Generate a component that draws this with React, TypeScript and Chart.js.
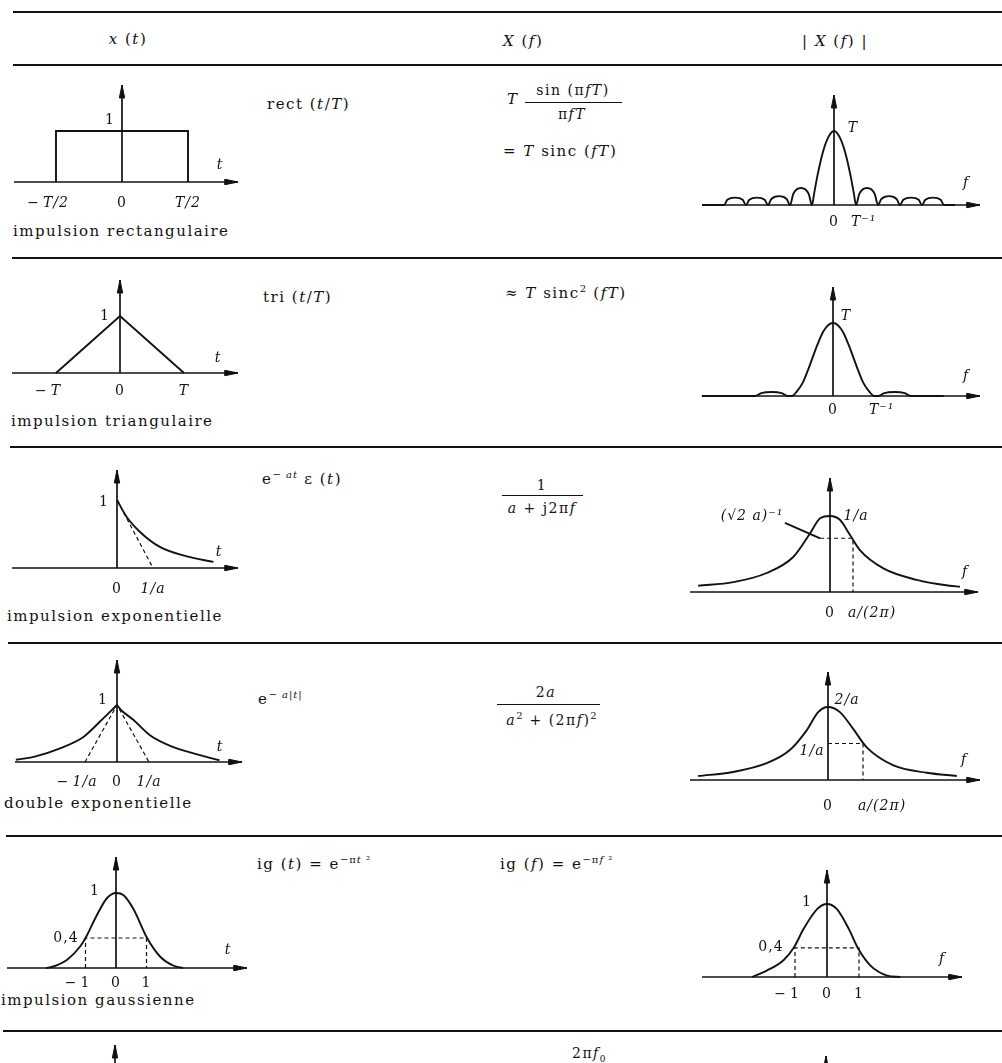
import React, { useEffect, useRef } from 'react';
import { Chart, registerables } from 'chart.js';

Chart.register(...registerables);

const INK = '#121212';

// ---------------- data ----------------
// Row 1 : rectangular pulse and |T sinc(fT)| (f in units of 1/T, magnitude in units of T)
const rectT = [-0.5, -0.5, 0.5, 0.5];
const rectX = [0, 1, 1, 0];
const rectTickValues = [-0.5, 0, 0.5];
const rectTickLabels = ['− T/2', '0', 'T/2'];

const sincF = [-6, -5, -4.85, -4.5, -4.15, -4, -3.85, -3.5, -3.15, -3, -2.85, -2.5, -2.15, -2, -1.85, -1.5, -1.15, -1, -0.9, -0.75, -0.5, -0.25, 0, 0.25, 0.5, 0.75, 0.9, 1, 1.15, 1.5, 1.85, 2, 2.15, 2.5, 2.85, 3, 3.15, 3.5, 3.85, 4, 4.15, 4.5, 4.85, 5, 5.5];
const sincMag = [0, 0, 0.07, 0.1, 0.07, 0, 0.07, 0.1, 0.07, 0, 0.08, 0.12, 0.08, 0, 0.15, 0.23, 0.15, 0, 0.16, 0.4, 0.72, 0.92, 1, 0.92, 0.72, 0.4, 0.16, 0, 0.15, 0.23, 0.15, 0, 0.08, 0.12, 0.08, 0, 0.07, 0.1, 0.07, 0, 0.07, 0.1, 0.07, 0, 0];
const sincTickValues = [0, 1];
const sincTickLabels = ['0', 'T⁻¹'];

// Row 2 : triangular pulse and T sinc²(fT)
const triT = [-1, 0, 1];
const triX = [0, 1, 0];
const triTickValues = [-1, 0, 1];
const triTickLabels = ['− T', '0', 'T'];

const sinc2F = [-3.2, -1.9, -1.75, -1.5, -1.25, -1.1, -1, -0.9, -0.74, -0.58, -0.41, -0.24, -0.12, 0, 0.12, 0.24, 0.41, 0.58, 0.74, 0.9, 1, 1.1, 1.25, 1.5, 1.75, 1.9, 2.7];
const sinc2Mag = [0, 0, 0.04, 0.055, 0.04, 0, 0, 0.05, 0.18, 0.4, 0.66, 0.88, 0.97, 1, 0.97, 0.88, 0.66, 0.4, 0.18, 0.05, 0, 0, 0.04, 0.055, 0.04, 0, 0];
const sinc2TickValues = [0, 1];
const sinc2TickLabels = ['0', 'T⁻¹'];

// Row 3 : one-sided exponential (t in units of 1/a) and its spectrum magnitude (f in units of a/2π)
const expT = [0, 0.27, 0.64, 1.19, 1.94, 2.68];
const expX = [1, 0.75, 0.53, 0.31, 0.17, 0.09];
const expTangentT = [0, 1];
const expTangentX = [1, 0];
const expTickValues = [0, 1];
const expTickLabels = ['0', '1/a'];

const lorF = [-5.73, -4.2, -2.75, -1.6, -0.87, -0.43, 0, 0.43, 0.87, 1.3, 2.32, 3.77, 5.2, 5.65];
const lorMag = [0.083, 0.13, 0.25, 0.46, 0.77, 0.97, 1, 0.95, 0.75, 0.55, 0.31, 0.16, 0.083, 0.07];
const lorGuideF = [-0.43, 1, 1];
const lorGuideMag = [0.707, 0.707, 0];
const lorLeaderF = [-1.96, -0.43];
const lorLeaderMag = [0.91, 0.707];
const lorTickValues = [0, 1];
const lorTickLabels = ['0', 'a/(2π)'];

// Row 4 : double exponential and 2a / (a² + (2πf)²)
const dexpLeftT = [-3.16, -2.6, -1.78, -1.05, -0.53, -0.22, 0];
const dexpLeftX = [0.04, 0.09, 0.24, 0.44, 0.71, 0.88, 1];
const dexpRightT = [0, 0.15, 0.51, 1.03, 1.76, 2.6, 3.2];
const dexpRightX = [1, 0.9, 0.74, 0.47, 0.26, 0.12, 0.03];
const dexpTangentT = [-1, 0, 1];
const dexpTangentX = [0, 1, 0];
const dexpTickValues = [-1, 0, 1];
const dexpTickLabels = ['− 1/a', '0', '1/a'];

const lor2F = [-3.71, -2.71, -1.75, -1.09, -0.61, -0.28, 0, 0.34, 0.72, 1.1, 1.87, 2.82, 3.68];
const lor2Mag = [0.055, 0.11, 0.23, 0.41, 0.68, 0.93, 1, 0.93, 0.7, 0.45, 0.2, 0.1, 0.055];
const lor2GuideF = [0, 1, 1];
const lor2GuideMag = [0.5, 0.5, 0];
const lor2TickValues = [0, 1];
const lor2TickLabels = ['0', 'a/(2π)'];

// Row 5 : gaussian pulse and its transform
const gaussT = [-2.3, -2.05, -1.6, -1.17, -1, -0.62, -0.3, 0, 0.25, 0.58, 1.02, 1.45, 1.89, 2.2];
const gaussX = [0, 0.02, 0.11, 0.29, 0.4, 0.71, 0.93, 1, 0.97, 0.78, 0.4, 0.15, 0.03, 0];
const gaussF = [-2.34, -1.87, -1.36, -1.04, -0.73, -0.31, 0, 0.31, 0.68, 0.96, 1.35, 1.88, 2.29];
const gaussFMag = [0, 0.09, 0.23, 0.4, 0.66, 0.93, 1, 0.93, 0.66, 0.4, 0.16, 0.02, 0];
const gaussGuideT = [-1, -1, 1, 1];
const gaussGuideX = [0, 0.4, 0.4, 0];
const gaussTickValues = [-1, 0, 1];
const gaussTickLabels = ['− 1', '0', '1'];

// ---------------- plot machinery ----------------
type Curve = { xs: number[]; ys: number[]; smooth?: boolean; dashed?: boolean };
type Note = { text: string; x: number; y: number; italic?: boolean };
type PlotCfg = {
  box: [number, number, number, number];
  origin: [number, number];
  unit: [number, number];
  axisPx?: [number, number];
  topPx: number;
  curves: Curve[];
  tickValues?: number[];
  tickLabels?: string[];
  tickAlign?: ('center' | 'left')[];
  tickGap?: number;
  notes?: Note[];
};

const FONT_UP = '14px "DejaVu Serif"';
const FONT_IT = 'italic 14px "DejaVu Serif"';

function Plot({ cfg }: { cfg: PlotCfg }) {
  const ref = useRef<HTMLCanvasElement>(null);
  useEffect(() => {
    const canvas = ref.current!;
    const [bl, bt, bw, bh] = cfg.box;
    const [ox, oy] = cfg.origin;
    const [sx, sy] = cfg.unit;
    const toX = (px: number) => (px - ox) / sx;
    const toY = (py: number) => (oy - py) / sy;
    const zip = (xs: number[], ys: number[]) => xs.map((x, i) => ({ x, y: ys[i] }));
    const lineBase = { showLine: true, borderColor: INK, pointRadius: 0, fill: false, tension: 0 };
    const datasets: any[] = cfg.curves.map((c) => ({
      ...lineBase,
      data: zip(c.xs, c.ys),
      borderWidth: c.dashed ? 1.2 : 1.9,
      borderDash: c.dashed ? [4, 3] : [],
      cubicInterpolationMode: c.smooth ? 'monotone' : 'default',
    }));
    const AL = 13;
    const AW = 2.7;
    const yTop = toY(cfg.topPx);
    const axisStyle = { ...lineBase, borderWidth: 1.7 };
    const arrowStyle = { ...lineBase, borderWidth: 1, fill: 'shape', backgroundColor: INK };
    datasets.push({ ...axisStyle, data: [{ x: 0, y: Math.min(0, yTop) }, { x: 0, y: yTop }] });
    datasets.push({
      ...arrowStyle,
      data: [
        { x: 0, y: yTop },
        { x: -AW / sx, y: yTop - AL / sy },
        { x: AW / sx, y: yTop - AL / sy },
        { x: 0, y: yTop },
      ],
    });
    if (cfg.axisPx) {
      const a0 = toX(cfg.axisPx[0]);
      const a1 = toX(cfg.axisPx[1]);
      datasets.push({ ...axisStyle, data: [{ x: a0, y: 0 }, { x: a1, y: 0 }] });
      datasets.push({
        ...arrowStyle,
        data: [
          { x: a1, y: 0 },
          { x: a1 - AL / sx, y: AW / sy },
          { x: a1 - AL / sx, y: -AW / sy },
          { x: a1, y: 0 },
        ],
      });
    }

    const labelPlugin = {
      id: 'plotLabels',
      afterDatasetsDraw(chart: any) {
        const ctx: CanvasRenderingContext2D = chart.ctx;
        ctx.save();
        ctx.fillStyle = INK;
        ctx.textBaseline = 'middle';
        (ctx as any).letterSpacing = '1px';
        const xs = chart.scales.x;
        const ys = chart.scales.y;
        const yLab = ys.getPixelForValue(0) + (cfg.tickGap ?? 18);
        (cfg.tickValues || []).forEach((v, i) => {
          const lab = (cfg.tickLabels || [])[i] || '';
          const align = (cfg.tickAlign || [])[i] || 'center';
          const px = xs.getPixelForValue(v);
          let body = lab;
          let minus = false;
          if (lab.startsWith('− ')) {
            body = lab.slice(2);
            minus = true;
          }
          ctx.font = /[A-Za-z]/.test(body) ? FONT_IT : FONT_UP;
          if (align === 'left') {
            ctx.textAlign = 'left';
            ctx.fillText(body, px - 5, yLab);
          } else {
            ctx.textAlign = 'center';
            ctx.fillText(body, px, yLab);
          }
          if (minus) {
            const w = ctx.measureText(body).width;
            ctx.font = FONT_UP;
            ctx.textAlign = 'right';
            ctx.fillText('−', px - w / 2 - 3, yLab);
          }
        });
        (cfg.notes || []).forEach((n) => {
          ctx.font = n.italic ? FONT_IT : FONT_UP;
          ctx.textAlign = 'center';
          ctx.fillText(n.text, n.x - bl, n.y - bt);
        });
        ctx.restore();
      },
    };

    const chart = new Chart(canvas, {
      type: 'scatter',
      data: { datasets },
      options: {
        responsive: false,
        animation: false,
        events: [],
        layout: { padding: 0 },
        plugins: { legend: { display: false }, tooltip: { enabled: false } },
        scales: {
          x: { type: 'linear', min: toX(bl), max: toX(bl + bw), display: false },
          y: { type: 'linear', min: toY(bt + bh), max: toY(bt), display: false },
        },
      },
      plugins: [labelPlugin],
    } as any);
    return () => chart.destroy();
  }, [cfg]);
  const [bl, bt, bw, bh] = cfg.box;
  return (
    <canvas
      ref={ref}
      width={bw}
      height={bh}
      style={{ position: 'absolute', left: bl, top: bt, width: bw, height: bh }}
    />
  );
}

// ---------------- layout ----------------
const PLOTS: PlotCfg[] = [
  {
    box: [0, 70, 252, 185], origin: [122, 182], unit: [132, 51], axisPx: [14, 238], topPx: 85,
    curves: [{ xs: rectT, ys: rectX }],
    tickValues: rectTickValues, tickLabels: rectTickLabels, tickGap: 21,
    notes: [{ text: '1', x: 110, y: 120 }, { text: 't', x: 220, y: 165, italic: true }],
  },
  {
    box: [680, 70, 322, 185], origin: [834, 205], unit: [22, 74], axisPx: [702, 980], topPx: 95,
    curves: [{ xs: sincF, ys: sincMag, smooth: true }],
    tickValues: sincTickValues, tickLabels: sincTickLabels, tickAlign: ['center', 'left'], tickGap: 17,
    notes: [{ text: 'T', x: 853, y: 128, italic: true }, { text: 'f', x: 966, y: 183, italic: true }],
  },
  {
    box: [0, 262, 252, 182], origin: [120, 373], unit: [64, 57], axisPx: [12, 238], topPx: 280,
    curves: [{ xs: triT, ys: triX }],
    tickValues: triTickValues, tickLabels: triTickLabels, tickGap: 18,
    notes: [{ text: '1', x: 105, y: 316 }, { text: 't', x: 218, y: 358, italic: true }],
  },
  {
    box: [680, 262, 322, 182], origin: [833, 396], unit: [41, 73], axisPx: [702, 980], topPx: 287,
    curves: [{ xs: sinc2F, ys: sinc2Mag, smooth: true }],
    tickValues: sinc2TickValues, tickLabels: sinc2TickLabels, tickAlign: ['center', 'left'], tickGap: 14,
    notes: [{ text: 'T', x: 846, y: 316, italic: true }, { text: 'f', x: 966, y: 376, italic: true }],
  },
  {
    box: [0, 452, 252, 150], origin: [117, 568], unit: [36, 68], axisPx: [12, 238], topPx: 470,
    curves: [
      { xs: expT, ys: expX, smooth: true },
      { xs: expTangentT, ys: expTangentX, dashed: true },
    ],
    tickValues: expTickValues, tickLabels: expTickLabels, tickGap: 21,
    notes: [{ text: '1', x: 104, y: 502 }, { text: 't', x: 219, y: 552, italic: true }],
  },
  {
    box: [680, 452, 322, 188], origin: [830, 592], unit: [23, 76], axisPx: [690, 978], topPx: 478,
    curves: [
      { xs: lorF, ys: lorMag, smooth: true },
      { xs: lorGuideF, ys: lorGuideMag, dashed: true },
      { xs: lorLeaderF, ys: lorLeaderMag },
    ],
    tickValues: lorTickValues, tickLabels: lorTickLabels, tickAlign: ['center', 'left'], tickGap: 21,
    notes: [
      { text: '(√2 a)⁻¹', x: 752, y: 516, italic: true },
      { text: '1/a', x: 856, y: 516, italic: true },
      { text: 'f', x: 965, y: 572, italic: true },
    ],
  },
  {
    box: [0, 648, 252, 145], origin: [117, 762], unit: [32, 57], axisPx: [15, 242], topPx: 660,
    curves: [
      { xs: dexpLeftT, ys: dexpLeftX, smooth: true },
      { xs: dexpRightT, ys: dexpRightX, smooth: true },
      { xs: dexpTangentT, ys: dexpTangentX, dashed: true },
    ],
    tickValues: dexpTickValues, tickLabels: dexpTickLabels, tickGap: 20,
    notes: [{ text: '1', x: 103, y: 700 }, { text: 't', x: 220, y: 747, italic: true }],
  },
  {
    box: [680, 648, 322, 186], origin: [828, 780], unit: [35, 73], axisPx: [690, 980], topPx: 672,
    curves: [
      { xs: lor2F, ys: lor2Mag, smooth: true },
      { xs: lor2GuideF, ys: lor2GuideMag, dashed: true },
    ],
    tickValues: lor2TickValues, tickLabels: lor2TickLabels, tickAlign: ['center', 'left'], tickGap: 26,
    notes: [
      { text: '2/a', x: 847, y: 700, italic: true },
      { text: '1/a', x: 812, y: 751, italic: true },
      { text: 'f', x: 964, y: 760, italic: true },
    ],
  },
  {
    box: [0, 840, 252, 150], origin: [116, 968], unit: [30.5, 75], axisPx: [7, 247], topPx: 857,
    curves: [
      { xs: gaussT, ys: gaussX, smooth: true },
      { xs: gaussGuideT, ys: gaussGuideX, dashed: true },
    ],
    tickValues: gaussTickValues, tickLabels: gaussTickLabels, tickGap: 15,
    notes: [
      { text: '1', x: 95, y: 891 },
      { text: '0,4', x: 66, y: 938 },
      { text: 't', x: 228, y: 950, italic: true },
    ],
  },
  {
    box: [680, 840, 322, 190], origin: [827, 977], unit: [32, 73], axisPx: [702, 962], topPx: 870,
    curves: [
      { xs: gaussF, ys: gaussFMag, smooth: true },
      { xs: gaussGuideT, ys: gaussGuideX, dashed: true },
    ],
    tickValues: gaussTickValues, tickLabels: gaussTickLabels, tickGap: 17,
    notes: [
      { text: '1', x: 807, y: 902 },
      { text: '0,4', x: 771, y: 947 },
      { text: 'f', x: 942, y: 959, italic: true },
    ],
  },
  { box: [0, 1036, 252, 27], origin: [115, 1140], unit: [30, 75], topPx: 1045, curves: [] },
  { box: [680, 1036, 322, 27], origin: [826, 1140], unit: [30, 75], topPx: 1056, curves: [] },
];

const RULES = [
  { y: 12, x: 13 },
  { y: 65, x: 13 },
  { y: 258, x: 12 },
  { y: 447, x: 10 },
  { y: 643, x: 8 },
  { y: 836, x: 6 },
  { y: 1031, x: 3 },
];

function Txt({ x, y, center, size = 15, children }: { x: number; y: number; center?: boolean; size?: number; children: React.ReactNode }) {
  return (
    <div
      style={{
        position: 'absolute',
        left: x,
        top: y,
        transform: `translate(${center ? '-50%' : '0'}, -50%)`,
        fontSize: size,
        letterSpacing: '1.5px',
        whiteSpace: 'nowrap',
        lineHeight: '18px',
      }}
    >
      {children}
    </div>
  );
}

const Sup = ({ children }: { children: React.ReactNode }) => (
  <span style={{ fontSize: 10, position: 'relative', top: -6, letterSpacing: '1px' }}>{children}</span>
);

const Bar = ({ x, y, w }: { x: number; y: number; w: number }) => (
  <div style={{ position: 'absolute', left: x, top: y, width: w, height: 1, background: INK }} />
);

export default function App() {
  return (
    <div
      style={{
        position: 'absolute',
        left: 0,
        top: 0,
        width: 1002,
        height: 1063,
        overflow: 'hidden',
        background: '#fff',
        color: INK,
        fontFamily: '"DejaVu Serif", serif',
      }}
    >
      {RULES.map((r, i) => (
        <div key={i} style={{ position: 'absolute', left: r.x, right: 0, top: r.y - 1, height: 2, background: INK }} />
      ))}

      {/* header */}
      <Txt x={128} y={39} center><i>x</i> (<i>t</i>)</Txt>
      <Txt x={503} y={41}><i>X</i> (<i>f</i>)</Txt>
      <Txt x={835} y={41} center>| <i>X</i> (<i>f</i>) |</Txt>

      {/* row 1 */}
      <Txt x={267} y={104}>rect (<i>t</i>/<i>T</i>)</Txt>
      <Txt x={507} y={99}><i>T</i></Txt>
      <Txt x={573} y={90} center size={14}>sin (π<i>fT</i>)</Txt>
      <Bar x={525} y={102} w={97} />
      <Txt x={572} y={114} center size={14}>π<i>fT</i></Txt>
      <Txt x={503} y={151}>= <i>T</i> sinc (<i>fT</i>)</Txt>
      <Txt x={13} y={231}>impulsion rectangulaire</Txt>

      {/* row 2 */}
      <Txt x={263} y={297}>tri (<i>t</i>/<i>T</i>)</Txt>
      <Txt x={505} y={294}>≈ <i>T</i> sinc<Sup>2</Sup> (<i>fT</i>)</Txt>
      <Txt x={11} y={421}>impulsion triangulaire</Txt>

      {/* row 3 */}
      <Txt x={262} y={480}>e<Sup>− <i>at</i></Sup> ε (<i>t</i>)</Txt>
      <Txt x={542} y={485} center size={14}>1</Txt>
      <Bar x={502} y={495} w={81} />
      <Txt x={542} y={508} center size={14}><i>a</i> + j2π<i>f</i></Txt>
      <Txt x={7} y={616}>impulsion exponentielle</Txt>

      {/* row 4 */}
      <Txt x={258} y={700}>e<Sup>− <i>a</i>|<i>t</i>|</Sup></Txt>
      <Txt x={546} y={692} center size={14}>2<i>a</i></Txt>
      <Bar x={497} y={704} w={103} />
      <Txt x={552} y={721} center size={14}><i>a</i><Sup>2</Sup> + (2π<i>f</i>)<Sup>2</Sup></Txt>
      <Txt x={4} y={803}>double exponentielle</Txt>

      {/* row 5 */}
      <Txt x={257} y={865}>ig (<i>t</i>) = e<Sup>−π<i>t</i> ²</Sup></Txt>
      <Txt x={500} y={865}>ig (<i>f</i>) = e<Sup>−π<i>f</i> ²</Sup></Txt>
      <Txt x={1} y={1000}>impulsion gaussienne</Txt>

      {/* row 6 (cut) */}
      <Txt x={572} y={1056} size={14}>2π<i>f</i><sub style={{ fontSize: 9 }}>0</sub></Txt>

      {PLOTS.map((p, i) => (
        <Plot key={i} cfg={p} />
      ))}
    </div>
  );
}
